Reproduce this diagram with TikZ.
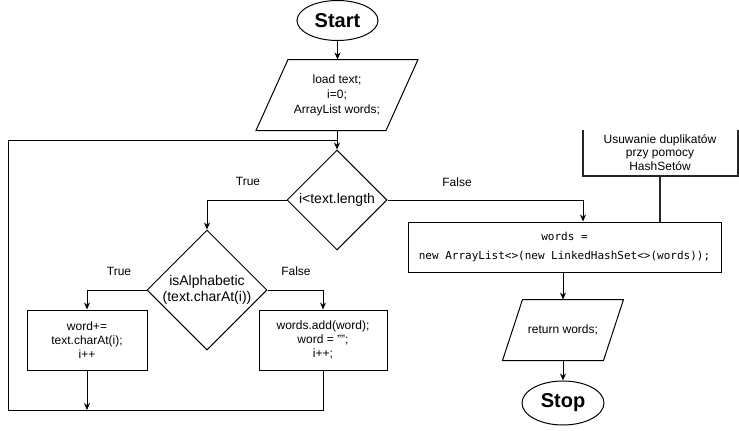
\documentclass[tikz,border=0pt]{standalone}
\usepackage{fontspec}
\setmainfont{Liberation Sans}
\newfontfamily\codefont{DejaVu Sans Mono}
\usetikzlibrary{shapes.geometric,arrows.meta}
\begin{document}
\begin{tikzpicture}[x=1pt,y=-1pt,
  line width=1pt,
  arr/.style={-{Stealth[length=7pt,width=6pt]}},
  term/.style={ellipse,draw,minimum width=81pt,minimum height=40pt,inner sep=0pt,font=\fontsize{20}{24}\selectfont\bfseries},
  io/.style={inner sep=0pt,align=center,font=\fontsize{12}{15}\selectfont},
  proc/.style={draw,rectangle,inner sep=0pt,align=center,font=\fontsize{12}{14}\selectfont},
  dec/.style={diamond,draw,inner sep=-6pt,align=center,font=\fontsize{14}{16}\selectfont},
  lbl/.style={font=\fontsize{12}{14}\selectfont,inner sep=0pt},
  thick2/.style={line width=2pt,black!85}
]
\useasboundingbox (0,0) rectangle (739,431);
\fill[white] (0,0) rectangle (739,431);

\node[term] (start) at (337.5,20.5) {Start};
\node[io,minimum width=161pt,minimum height=70pt] (in) at (337,95) {load text;\\i=0;\\ArrayList words;};
\draw ([xshift=32pt]in.north west) -- (in.north east) -- ([xshift=-32pt]in.south east) -- (in.south west) -- cycle;

\node[dec,minimum width=100pt,minimum height=100pt] (c1) at (337,200) {i<text.length};
\node[dec,minimum width=120pt,minimum height=120pt] (c2) at (207,290) {isAlphabetic\\(text.charAt(i))};
\node[proc,minimum width=120pt,minimum height=60pt] (wp) at (87,340) {word+=\\text.charAt(i);\\i++};
\node[proc,minimum width=128pt,minimum height=60pt] (wa) at (323,340) {words.add(word);\\word = "";\\i++;};

\node[proc,minimum width=313pt,minimum height=50pt,font=\codefont\fontsize{11}{19}\selectfont] (dd) at (564.5,247) {words =\\new ArrayList<>(new LinkedHashSet<>(words));};

\node[lbl,minimum width=154pt,minimum height=45pt,align=center,font=\fontsize{12}{13.5}\selectfont] (ann) at (660,152.5) {Usuwanie duplikatów\\przy pomocy\\HashSetów};
\draw[thick2] (ann.north west) |- (ann.south east) -- (ann.north east);
\draw[thick2] (ann.south) -- (ann.south |- dd.north);

\node[io,minimum width=120pt,minimum height=60pt] (ret) at (563,330) {return words;};
\draw ([xshift=20pt]ret.north west) -- (ret.north east) -- ([xshift=-20pt]ret.south east) -- (ret.south west) -- cycle;
\node[term,minimum width=82pt,minimum height=44pt] (stop) at (563,403) {Stop};

\coordinate (jt) at (337,140);
\coordinate (lt) at (8,140);
\coordinate (lb) at (8,410);

\draw[arr] (start.south) -- (start.south |- in.north);
\draw[arr] (in.south) -- (c1.north);
\draw (wa.south) |- (lb) -- (lt) -- (jt);
\draw[arr] (wp.south) -- (wp.south |- lb);
\draw[arr] (c1.west) -| (c2.north);
\draw[arr] (c2.west) -| (wp.north);
\draw[arr] (c2.east) -| (wa.north);
\draw[arr] (c1.east) -| ([xshift=18.5pt]dd.north);
\draw[arr] (ret.north |- dd.south) -- (ret.north);
\draw[arr] (ret.south) -- (stop.north);

\node[lbl] (t1) at (248,181) {True};
\node[lbl] (f1) at (457,182) {False};
\node[lbl] (t2) at (119,271) {True};
\node[lbl] (f2) at (296,271) {False};
\end{tikzpicture}
\end{document}
